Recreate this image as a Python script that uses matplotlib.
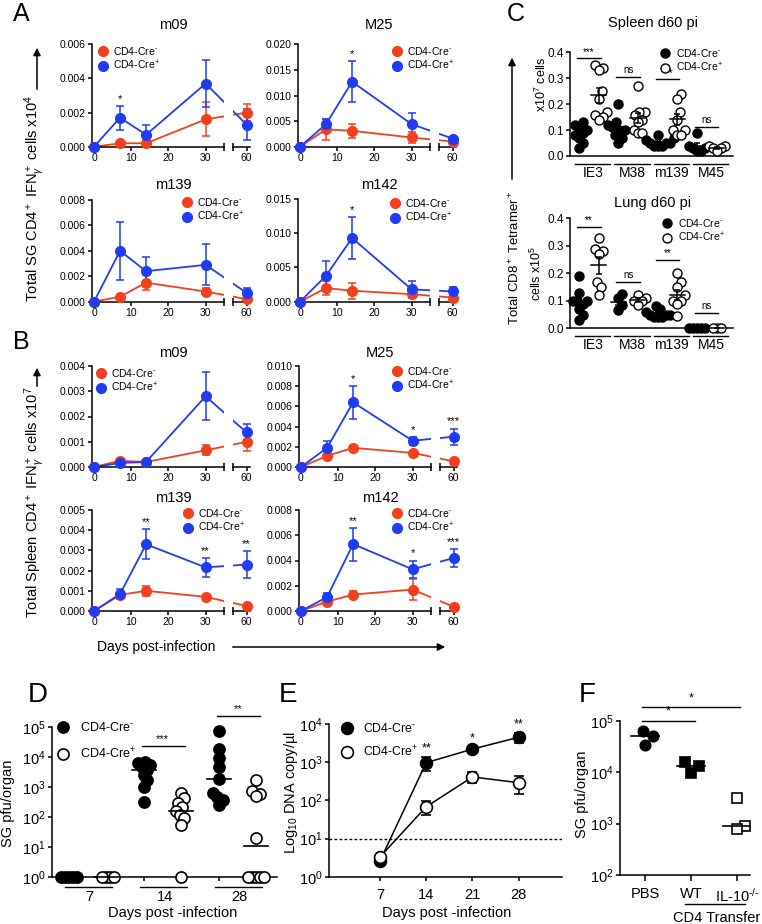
import numpy as np
import matplotlib
matplotlib.use("Agg")
import matplotlib.pyplot as plt
import matplotlib.transforms as mtrans
from matplotlib.lines import Line2D
from matplotlib.patches import FancyArrowPatch
from matplotlib.ticker import NullLocator

plt.rcParams.update({
    "font.family": ["Liberation Sans", "DejaVu Sans"],
    "mathtext.fontset": "custom",
    "mathtext.rm": "Liberation Sans",
    "mathtext.it": "Liberation Sans:italic",
    "mathtext.bf": "Liberation Sans:bold",
    "axes.linewidth": 1.1,
    "xtick.major.width": 1.1,
    "ytick.major.width": 1.1,
    "xtick.major.size": 3,
    "ytick.major.size": 3,
    "xtick.major.pad": 1.5,
    "ytick.major.pad": 1.5,
})

RED = "#f2401f"
BLUE = "#1f3cf2"
CRE = ["CD4-Cre$^{\\text{-}}$", "CD4-Cre$^{+}$"]

# ---- A: salivary gland CD4+ IFNg+ cells (x10^4) ----
days = [0, 7, 14, 30, 60]
sg_m09_neg = [0, 0.0002, 0.0002, 0.0016, 0.0020]
sg_m09_neg_sem = [0, 0.00005, 0.0001, 0.0010, 0.0005]
sg_m09_pos = [0, 0.0017, 0.0007, 0.0037, 0.0013]
sg_m09_pos_sem = [0, 0.0007, 0.0006, 0.0014, 0.0009]

sg_M25_neg = [0, 0.0034, 0.0031, 0.0018, 0.0010]
sg_M25_neg_sem = [0, 0.0020, 0.0014, 0.0011, 0.0003]
sg_M25_pos = [0, 0.0044, 0.0127, 0.0044, 0.0016]
sg_M25_pos_sem = [0, 0.0010, 0.0040, 0.0022, 0.0003]

sg_m139_neg = [0, 0.0004, 0.0015, 0.0008, 0.0002]
sg_m139_neg_sem = [0, 0.00005, 0.0006, 0.0003, 0.0001]
sg_m139_pos = [0, 0.0040, 0.0024, 0.0029, 0.0007]
sg_m139_pos_sem = [0, 0.0023, 0.0011, 0.0016, 0.0004]

sg_m142_neg = [0, 0.0020, 0.0016, 0.0011, 0.0006]
sg_m142_neg_sem = [0, 0.0010, 0.0012, 0.0003, 0.0002]
sg_m142_pos = [0, 0.0038, 0.0093, 0.0018, 0.0015]
sg_m142_pos_sem = [0, 0.0021, 0.0030, 0.0012, 0.0007]

# ---- B: spleen CD4+ IFNg+ cells (x10^7) ----
sp_m09_neg = [0, 0.00025, 0.0002, 0.00066, 0.0010]
sp_m09_neg_sem = [0, 0.00003, 0.00003, 0.0002, 0.00035]
sp_m09_pos = [0, 0.00016, 0.0002, 0.0028, 0.00137]
sp_m09_pos_sem = [0, 0.00003, 0.00003, 0.00095, 0.00033]

sp_M25_neg = [0, 0.0011, 0.0019, 0.0014, 0.00056]
sp_M25_neg_sem = [0, 0.0002, 0.0001, 0.0001, 0.0001]
sp_M25_pos = [0, 0.0019, 0.0064, 0.0026, 0.0030]
sp_M25_pos_sem = [0, 0.0007, 0.0016, 0.0004, 0.0008]

sp_m139_neg = [0, 0.0008, 0.0010, 0.0007, 0.00025]
sp_m139_neg_sem = [0, 0.00005, 0.00025, 0.00005, 0.00003]
sp_m139_pos = [0, 0.00084, 0.0033, 0.00216, 0.0023]
sp_m139_pos_sem = [0, 0.00025, 0.00075, 0.00048, 0.00065]

sp_m142_neg = [0, 0.00074, 0.0013, 0.0017, 0.00034]
sp_m142_neg_sem = [0, 0.0002, 0.0003, 0.0008, 0.00005]
sp_m142_pos = [0, 0.0011, 0.0053, 0.0033, 0.0042]
sp_m142_pos_sem = [0, 0.0003, 0.0013, 0.0007, 0.0007]

# ---- C: CD8+ tetramer+ cells, d60 ----
epitopes = ["IE3", "M38", "m139", "M45"]
spleen_neg = [[0.13, 0.12, 0.11, 0.10, 0.09, 0.08, 0.07, 0.05, 0.03],
              [0.20, 0.13, 0.12, 0.11, 0.10, 0.10, 0.08, 0.07, 0.05],
              [0.08, 0.07, 0.06, 0.05, 0.05, 0.05, 0.04, 0.04, 0.04],
              [0.09, 0.04, 0.03, 0.03, 0.02, 0.02]]
spleen_pos = [[0.35, 0.34, 0.33, 0.25, 0.22, 0.17, 0.16, 0.15, 0.14],
              [0.27, 0.17, 0.17, 0.16, 0.14, 0.13, 0.10, 0.09, 0.09],
              [0.24, 0.22, 0.17, 0.14, 0.10, 0.10, 0.08, 0.08],
              [0.04, 0.04, 0.03, 0.03, 0.02]]
spleen_sig = ["***", "ns", "***", "ns"]
lung_neg = [[0.19, 0.13, 0.10, 0.10, 0.10, 0.09, 0.07, 0.05, 0.03],
            [0.125, 0.11, 0.085, 0.067],
            [0.08, 0.07, 0.06, 0.05, 0.05, 0.05, 0.04, 0.04, 0.04],
            [0, 0, 0, 0, 0]]
lung_pos = [[0.33, 0.29, 0.28, 0.27, 0.17, 0.15, 0.12],
            [0.12, 0.11, 0.10, 0.10, 0.085],
            [0.20, 0.17, 0.15, 0.12, 0.10, 0.10, 0.09, 0.045],
            [0, 0, 0]]
lung_sig = ["**", "ns", "**", "ns"]

# ---- D: SG pfu/organ ----
d_days = ["7", "14", "28"]
d_neg = [[1, 1, 1, 1, 1],
         [6800, 6000, 5300, 4600, 3600, 2450, 1670, 1000, 316],
         [70000, 18000, 9000, 4500, 1800, 600, 450, 350, 250]]
d_pos = [[1, 1, 1, 1],
         [600, 410, 280, 215, 150, 113, 88, 53, 1],
         [1700, 700, 550, 500, 20, 1, 1, 1, 1, 1]]
d_sig = [None, "***", "**"]

# ---- E: DNA copies ----
e_days = [7, 14, 21, 28]
e_neg = [2.6, 970, 2200, 4500]
e_neg_sem = [0.3, 400, 300, 1300]
e_pos = [3.3, 68, 410, 290]
e_pos_sem = [0.3, 27, 130, 140]
e_sig = ["", "**", "*", "**"]

# ---- F: CD4 transfer ----
f_groups = ["PBS", "WT", "IL-10$^{\\text{-/-}}$"]
f_vals = [[63000, 50000, 34000], [16000, 13000, 9800], [3100, 900, 800]]

W, H = 762, 924
fig = plt.figure(figsize=(W / 100, H / 100), dpi=100)


def fx(x):
    return x / W


def fy(y):
    return 1 - y / H


def box(l, t, r, b):
    ax = fig.add_axes([l / W, 1 - b / H, (r - l) / W, (b - t) / H])
    ax.set_facecolor("none")
    return ax


def noclip(eb):
    for a in eb.get_children():
        a.set_clip_on(False)


def arrow(x0, y0, x1, y1):
    fig.add_artist(FancyArrowPatch((fx(x0), fy(y0)), (fx(x1), fy(y1)),
                                   transform=fig.transFigure, arrowstyle="-|>",
                                   mutation_scale=11, lw=1.1, color="black"))


def legend_at(ax, handles, mx, my, fs, htp=0.5, ls=0.3):
    fpx = fs * 100 / 72
    leg = ax.legend(handles, CRE, loc="upper left",
                    bbox_to_anchor=(fx(mx - fpx / 2), fy(my - 0.62 * fpx)),
                    bbox_transform=fig.transFigure, frameon=False, fontsize=fs,
                    handlelength=1.0, handletextpad=htp, labelspacing=ls,
                    borderpad=0, borderaxespad=0)
    leg.set_zorder(10)


def swarm(ax, x, ys, sx, sy, step):
    # beeswarm in pixel space, elliptical exclusion zone (sx wide, sy tall)
    ys = np.asarray(ys, float)
    T = ax.transData
    py = T.transform(np.column_stack([np.full(len(ys), x), ys]))[:, 1]
    ppu = T.transform((1, 0))[0] - T.transform((0, 0))[0]
    placed = []
    offs = np.zeros(len(ys))
    for i in np.argsort(py):
        k = 0
        while True:
            c = ((k + 1) // 2) * (1 if k % 2 else -1) * step
            if all(((c - ox) / sx) ** 2 + ((py[i] - oy) / sy) ** 2 >= 1
                   for ox, oy in placed):
                break
            k += 1
        placed.append((c, py[i]))
        offs[i] = c
    return x + offs / ppu


SP = 3.72  # px per day in A/B


def timecourse(day0, top, bottom, ymax, ystep, title, title_y,
               neg, neg_sem, pos, pos_sem, stars, leg):
    axl = box(day0 - 0.6 * SP, top, day0 + 35 * SP, bottom)
    axr = box(day0 + 37.4 * SP, top, day0 + 42 * SP, bottom)
    x = np.array(days, float)
    x[x > 35] = 41  # day 60 sits after the axis break
    neg, neg_sem, pos, pos_sem = map(np.asarray, (neg, neg_sem, pos, pos_sem))
    for ax in (axl, axr):
        ax.set_ylim(0, ymax)
        for vals, c in ((neg, RED), (pos, BLUE)):
            ax.plot(x, vals, color=c, lw=1.3, zorder=2)
        ax.spines[["top", "right"]].set_visible(False)
        ax.tick_params(labelsize=7.5)
    axl.set_xlim(-0.6, 35)
    axr.set_xlim(37.4, 42)
    for ax, sel in ((axl, x < 35), (axr, x > 35)):
        for vals, sem, c in ((neg, neg_sem, RED), (pos, pos_sem, BLUE)):
            eb = ax.errorbar(x[sel], vals[sel], yerr=sem[sel], fmt="o", ms=7,
                             color=c, capsize=3, elinewidth=1.1, capthick=1.1,
                             zorder=3)
            noclip(eb)
    axl.set_yticks(np.arange(0, ymax + ystep / 2, ystep))
    axl.yaxis.set_major_formatter("{x:.3f}")
    axl.set_xticks([0, 10, 20, 30])
    axl.set_xticks([35], minor=True)
    axr.spines["left"].set_visible(False)
    axr.set_yticks([])
    axr.set_xticks([41], ["60"])
    axr.set_xticks([37.4], minor=True)
    for ax in (axl, axr):
        ax.tick_params(which="minor", direction="inout", length=6, width=1.1)
    for d, s in stars.items():
        i = days.index(d)
        v = max(neg[i] + neg_sem[i], pos[i] + pos_sem[i])
        ax = axr if x[i] > 35 else axl
        ax.annotate(s, (x[i], v), xytext=(0, 1.5), textcoords="offset points",
                    ha="center", va="bottom", fontsize=8, annotation_clip=False)
    cx = (day0 - 0.6 * SP + day0 + 42 * SP) / 2 + 2
    fig.text(fx(cx), fy(title_y), title, ha="center", va="center", fontsize=10.5)
    handles = [Line2D([], [], ls="none", marker="o", ms=7, color=c) for c in (RED, BLUE)]
    legend_at(axl, handles, leg[0], leg[1], 7.5, htp=0.5, ls=0.2)


timecourse(94, 44.3, 146.7, 0.006, 0.002, "m09", 25,
           sg_m09_neg, sg_m09_neg_sem, sg_m09_pos, sg_m09_pos_sem, {7: "*"}, (103, 51))
timecourse(300, 44.3, 146.7, 0.020, 0.005, "M25", 25,
           sg_M25_neg, sg_M25_neg_sem, sg_M25_pos, sg_M25_pos_sem, {14: "*"}, (397, 51))
timecourse(94, 200, 301.7, 0.008, 0.002, "m139", 185,
           sg_m139_neg, sg_m139_neg_sem, sg_m139_pos, sg_m139_pos_sem, {}, (187, 202))
timecourse(300, 199, 301.7, 0.015, 0.005, "m142", 185,
           sg_m142_neg, sg_m142_neg_sem, sg_m142_pos, sg_m142_pos_sem, {14: "*"}, (395, 203))

timecourse(94, 366, 467, 0.004, 0.001, "m09", 353,
           sp_m09_neg, sp_m09_neg_sem, sp_m09_pos, sp_m09_pos_sem, {}, (101, 373))
timecourse(301, 366, 467, 0.010, 0.002, "M25", 353,
           sp_M25_neg, sp_M25_neg_sem, sp_M25_pos, sp_M25_pos_sem,
           {14: "*", 30: "*", 60: "***"}, (397, 371))
timecourse(94, 510, 611, 0.005, 0.001, "m139", 498,
           sp_m139_neg, sp_m139_neg_sem, sp_m139_pos, sp_m139_pos_sem,
           {14: "**", 30: "**", 60: "**"}, (188, 513))
timecourse(301, 510, 611, 0.008, 0.002, "m142", 498,
           sp_m142_neg, sp_m142_neg_sem, sp_m142_pos, sp_m142_pos_sem,
           {14: "**", 30: "*", 60: "***"}, (397, 513))

fig.text(fx(35), fy(199), "Total SG CD4$^+$ IFN$_\\gamma^+$ cells x10$^4$",
         rotation=90, ha="center", va="center", fontsize=10.5)
arrow(37, 92, 37, 45)
fig.text(fx(35), fy(502), "Total Spleen CD4$^+$ IFN$_\\gamma^+$ cells x10$^7$",
         rotation=90, ha="center", va="center", fontsize=10.5)
arrow(37, 389, 37, 365)
fig.text(fx(156), fy(647), "Days post-infection", ha="center", va="center", fontsize=10)
arrow(230, 647, 448, 647)


# ---- C ----
def dotplot(top, bottom, title, title_y, neg, pos, sig, sig_y, leg):
    ax = box(570, top, 733, bottom)
    ax.set_xlim(-0.46, 7.84)
    ax.set_ylim(0, 0.4)
    ax.spines[["top", "right"]].set_visible(False)
    ax.set_yticks(np.arange(0, 0.41, 0.1))
    ax.yaxis.set_major_formatter("{x:.1f}")
    ax.tick_params(labelsize=8.5)
    ax.set_xticks([])
    for k in range(4):
        for j, vals in enumerate((neg[k], pos[k])):
            xc = 2 * k + j
            xs = swarm(ax, xc, vals, 4, 9, 1)
            ax.plot(xs, vals, ls="none", marker="o", ms=6.5,
                    mfc="black" if j == 0 else "white", mec="black", mew=1,
                    clip_on=False, zorder=3)
            m = np.mean(vals)
            se = np.std(vals, ddof=1) / np.sqrt(len(vals))
            ax.plot([xc - 0.38, xc + 0.38], [m, m], color="black", lw=1.1,
                    zorder=4, clip_on=False)
            eb = ax.errorbar(xc, m, yerr=se, color="black", capsize=2.5,
                             elinewidth=1.1, capthick=1.1, zorder=4)
            noclip(eb)
    h = bottom - top
    tr = mtrans.blended_transform_factory(ax.transData, ax.transAxes)
    for k, name in enumerate(epitopes):
        ax.plot([2 * k - 0.2, 2 * k + 1.6], [-7.5 / h] * 2, color="black", lw=1,
                transform=tr, clip_on=False)
        ax.text(2 * k + 0.72, -17 / h, name, transform=tr, ha="center",
                va="center", fontsize=10)
        ax.plot([2 * k - 0.1, 2 * k + 1.1], [sig_y[k]] * 2, color="black", lw=1,
                clip_on=False)
        ax.annotate(sig[k], (2 * k + 0.5, sig_y[k]), xytext=(0, 1),
                    textcoords="offset points", ha="center", va="bottom",
                    fontsize=7, annotation_clip=False)
    fig.text(fx(653), fy(title_y), title, ha="center", va="center", fontsize=10.5)
    handles = [Line2D([], [], ls="none", marker="o", ms=6.5, mfc=fc, mec="black")
               for fc in ("black", "white")]
    legend_at(ax, handles, leg[0], leg[1], 7.5, htp=0.6, ls=0.25)


dotplot(52.3, 156, "Spleen d60 pi", 23, spleen_neg, spleen_pos, spleen_sig,
        [0.377, 0.306, 0.296, 0.113], (665, 53))
dotplot(218.3, 328.3, "Lung d60 pi", 203, lung_neg, lung_pos, lung_sig,
        [0.37, 0.17, 0.25, 0.057], (667, 223))
fig.text(fx(541), fy(84), "x10$^7$ cells", rotation=90, ha="center", va="center", fontsize=9)
fig.text(fx(536), fy(273), "cells x10$^5$", rotation=90, ha="center", va="center", fontsize=9)
fig.text(fx(515), fy(258), "Total CD8$^+$ Tetramer$^+$", rotation=90, ha="center",
         va="center", fontsize=9.5)
arrow(512, 182, 512, 55)

# ---- D ----
axd = box(51.7, 726.7, 276.7, 876.7)
axd.set_yscale("log")
axd.set_ylim(1, 1e5)
axd.set_xlim(-0.46, 5.54)
axd.yaxis.set_minor_locator(NullLocator())
axd.set_yticks([1, 10, 100, 1e3, 1e4, 1e5])
axd.set_xticks(range(6), [""] * 6)
axd.spines[["top", "right"]].set_visible(False)
axd.tick_params(labelsize=10.5)
trd = mtrans.blended_transform_factory(axd.transData, axd.transAxes)
for k in range(3):
    for j, vals in enumerate((d_neg[k], d_pos[k])):
        xc = 2 * k + j
        xs = swarm(axd, xc, vals, 3.5, 9, 1)
        axd.plot(xs, vals, ls="none", marker="o", ms=8,
                 mfc="black" if j == 0 else "white", mec="black", mew=1.2,
                 clip_on=False, zorder=3)
        med = np.median(vals)
        axd.plot([xc - 0.32, xc + 0.32], [med, med], color="black", lw=1.2,
                 zorder=4, clip_on=False)
    axd.plot([2 * k - 0.1, 2 * k + 1.15], [-10 / 150] * 2, color="black", lw=1,
             transform=trd, clip_on=False)
    axd.text(2 * k + 0.55, -20 / 150, d_days[k], transform=trd, ha="center",
             va="center", fontsize=10.5)
    if d_sig[k]:
        yv = 2.3e4 if k == 1 else 2.3e5
        axd.plot([2 * k - 0.05, 2 * k + 1.1], [yv, yv], color="black", lw=1,
                 clip_on=False)
        axd.annotate(d_sig[k], (2 * k + 0.5, yv), xytext=(0, 1),
                     textcoords="offset points", ha="center", va="bottom",
                     fontsize=8, annotation_clip=False)
hd = [Line2D([], [], ls="none", marker="o", ms=8, mfc=fc, mec="black", mew=1.2)
      for fc in ("black", "white")]
legend_at(axd, hd, 63, 729, 9, htp=0.9, ls=0.95)
fig.text(fx(8), fy(803), "SG pfu/organ", rotation=90, ha="center", va="center", fontsize=10.5)
fig.text(fx(173), fy(913), "Days post -infection", ha="center", va="center", fontsize=10.5)

# ---- E ----
axe = box(329.3, 724, 561.7, 876.7)
axe.set_yscale("log")
axe.set_ylim(1, 1e4)
axe.set_xlim(-0.67, 34.5)
axe.yaxis.set_minor_locator(NullLocator())
axe.set_yticks([1, 10, 100, 1e3, 1e4])
axe.set_xticks(e_days)
axe.spines[["top", "right"]].set_visible(False)
axe.tick_params(labelsize=10.5)
axe.tick_params(axis="x", pad=5)
axe.axhline(10, color="black", lw=1, ls=(0, (2, 1.6)))
for vals, sem, fc in ((e_neg, e_neg_sem, "black"), (e_pos, e_pos_sem, "white")):
    axe.plot(e_days, vals, color="black", lw=1.1, zorder=2)
    eb = axe.errorbar(e_days, vals, yerr=sem, fmt="o", ms=8.5, mfc=fc, mec="black",
                      mew=1.2, color="black", capsize=3.5, elinewidth=1.1,
                      capthick=1.1, zorder=3)
    noclip(eb)
for d, s, v, se in zip(e_days, e_sig, e_neg, e_neg_sem):
    if s:
        axe.annotate(s, (d, v + se), xytext=(0, 2), textcoords="offset points",
                     ha="center", va="bottom", fontsize=9, annotation_clip=False)
he = [Line2D([], [], ls="none", marker="o", ms=8.5, mfc=fc, mec="black", mew=1.2)
      for fc in ("black", "white")]
legend_at(axe, he, 347, 730, 8.8, htp=0.8, ls=0.7)
fig.text(fx(291), fy(792), "Log$_{10}$ DNA copy/\u00b5l", rotation=90, ha="center",
         va="center", fontsize=10.5)
fig.text(fx(447), fy(913), "Days post -infection", ha="center", va="center", fontsize=10.5)

# ---- F ----
axf = box(620, 720.7, 750, 875)
axf.set_yscale("log")
axf.set_ylim(100, 1e5)
axf.set_xlim(-0.54, 2.28)
axf.yaxis.set_minor_locator(NullLocator())
axf.set_yticks([100, 1e3, 1e4, 1e5])
axf.set_xticks(range(3), f_groups)
axf.spines[["top", "right"]].set_visible(False)
axf.tick_params(labelsize=10.5)
axf.tick_params(axis="x", pad=4.5, length=4)
f_marker = [("o", "black"), ("s", "black"), ("s", "white")]
for k, vals in enumerate(f_vals):
    xs = swarm(axf, k, vals, 8, 14, 2)
    mk, fc = f_marker[k]
    axf.plot(xs, vals, ls="none", marker=mk, ms=7.5, mfc=fc, mec="black", mew=1.2,
             clip_on=False, zorder=3)
    med = np.median(vals)
    axf.plot([k - 0.3, k + 0.3], [med, med], color="black", lw=1.2, zorder=4)
for x1, yv in ((1.09, 1e5), (2.07, 10 ** 5.27)):
    axf.plot([-0.07, x1], [yv, yv], color="black", lw=1, clip_on=False)
    axf.annotate("*", ((x1 - 0.07) / 2, yv), xytext=(0, 2), textcoords="offset points",
                 ha="center", va="bottom", fontsize=9, annotation_clip=False)
trf = mtrans.blended_transform_factory(axf.transData, axf.transAxes)
axf.plot([0.87, 2.17], [-29 / 154.3] * 2, color="black", lw=1, transform=trf, clip_on=False)
axf.text(1.56, -43 / 154.3, "CD4 Transfer", transform=trf, ha="center", va="center",
         fontsize=10.5)
fig.text(fx(582), fy(794), "SG pfu/organ", rotation=90, ha="center", va="center", fontsize=10.5)

# ---- panel letters ----
for L, x, y, fs in (("A", 21, 14, 18), ("B", 21, 342, 18), ("C", 516, 14, 18),
                    ("D", 38, 695, 20), ("E", 288, 695, 20), ("F", 587, 695, 20)):
    fig.text(fx(x), fy(y), L, ha="center", va="center", fontsize=fs)

fig.savefig("out.png", dpi=100)
